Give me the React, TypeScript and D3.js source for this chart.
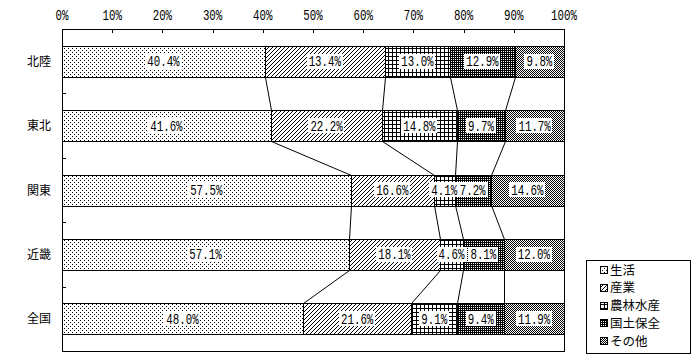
import React from "react";
import * as d3 from "d3";

const categories = ["北陸", "東北", "関東", "近畿", "全国"];
const seriesNames = ["生活", "産業", "農林水産", "国土保全", "その他"];
const seikatsu = [40.4, 41.6, 57.5, 57.1, 48.0];
const sangyou = [23.9, 22.2, 16.6, 18.1, 21.6];
const sangyouLabels = ["13.4%", "22.2%", "16.6%", "18.1%", "21.6%"];
const nourin = [13.0, 14.8, 4.1, 4.6, 9.1];
const kokudo = [12.9, 9.7, 7.2, 8.1, 9.4];
const sonota = [9.8, 11.7, 14.6, 12.0, 11.9];
const xTicks = [0, 10, 20, 30, 40, 50, 60, 70, 80, 90, 100];

const seriesValues = [seikatsu, sangyou, nourin, kokudo, sonota];
const patternIds = ["pDots", "pDiag", "pGrid", "pDark", "pCheck"];

const W = 700, H = 360;
const left = 62, right = 564, top = 29, bottom = 351;
const monoFont = "'Liberation Mono', 'DejaVu Sans Mono', monospace";
const cjkFont = "'Noto Sans CJK JP', 'Noto Sans', sans-serif";
const monoSize = 14;
const sx = 0.77;
const charW = monoSize * 0.6 * sx;

export default function App() {
  const rows = categories.map((c, i) => {
    const r: any = { cat: c };
    seriesNames.forEach((s, k) => (r[s] = seriesValues[k][i]));
    return r;
  });
  const stacked = d3.stack<any>().keys(seriesNames).offset(d3.stackOffsetExpand)(rows);
  const x = d3.scaleLinear().domain([0, 1]).range([left, right]);
  const xp = d3.scaleLinear().domain([0, 100]).range([left, right]);
  const y = d3.scaleBand().domain(categories).range([top, bottom]).paddingInner(0.52).paddingOuter(0.26);
  const band = (bottom - top) / categories.length;

  const labelText = (k: number, i: number) =>
    k === 1 ? sangyouLabels[i] : seriesValues[k][i].toFixed(1) + "%";

  const px = (pts: [number, number][]) =>
    pts.map(([a, b], j) => <rect key={j} x={a} y={b} width={1} height={1} fill="#000" />);

  return (
    <svg width={W} height={H} style={{ position: "absolute", left: 0, top: 0, background: "#fff" }} shapeRendering="crispEdges">
      <defs>
        <pattern id="pDots" width={4} height={4} patternUnits="userSpaceOnUse">
          <rect width={4} height={4} fill="#fff" />
          {px([[0, 0], [2, 2]])}
        </pattern>
        <pattern id="pDiag" width={4} height={4} patternUnits="userSpaceOnUse">
          <rect width={4} height={4} fill="#fff" />
          {px([[3, 0], [2, 1], [1, 2], [0, 3]])}
        </pattern>
        <pattern id="pGrid" width={4} height={4} patternUnits="userSpaceOnUse">
          <rect width={4} height={4} fill="#fff" />
          <rect x={0} y={0} width={4} height={1} fill="#000" />
          <rect x={0} y={0} width={1} height={4} fill="#000" />
        </pattern>
        <pattern id="pDark" width={2} height={2} patternUnits="userSpaceOnUse">
          <rect width={2} height={2} fill="#000" />
          <rect x={1} y={1} width={1} height={1} fill="#fff" />
        </pattern>
        <pattern id="pCheck" width={2} height={2} patternUnits="userSpaceOnUse">
          <rect width={2} height={2} fill="#fff" />
          {px([[0, 0], [1, 1]])}
        </pattern>
      </defs>

      {/* frame */}
      <rect x={left + 0.5} y={top + 0.5} width={right - left} height={bottom - top} fill="#fff" stroke="#000" />

      {/* top axis ticks and labels */}
      {xTicks.map((t) => (
        <g key={t}>
          <line x1={Math.round(xp(t)) + 0.5} x2={Math.round(xp(t)) + 0.5} y1={top} y2={top + 4} stroke="#000" />
          <text
            transform={`translate(${xp(t)},20) scale(${sx},1)`}
            textAnchor="middle"
            fontFamily={monoFont}
            fontSize={monoSize}
          >
            {t}%
          </text>
        </g>
      ))}

      {/* left axis ticks */}
      {categories.slice(1).map((c, i) => {
        const yy = Math.round(top + band * (i + 1)) + 0.5;
        return <line key={c} x1={left} x2={left + 4} y1={yy} y2={yy} stroke="#000" />;
      })}

      {/* category labels */}
      {categories.map((c) => (
        <text key={c} x={51} y={(y(c) as number) + y.bandwidth() / 2 + 4.5} textAnchor="end" fontFamily={cjkFont} fontSize={12}>
          {c}
        </text>
      ))}

      {/* series connector lines */}
      {stacked.slice(0, 4).map((s, k) =>
        categories.slice(0, -1).map((c, i) => {
          const x1 = Math.round(x(s[i][1])) + 0.5;
          const x2 = Math.round(x(s[i + 1][1])) + 0.5;
          const y1 = Math.round((y(c) as number) + y.bandwidth()) + 0.5;
          const y2 = Math.round(y(categories[i + 1]) as number) + 0.5;
          return <line key={`${k}-${i}`} x1={x1} x2={x2} y1={y1} y2={y2} stroke="#000" shapeRendering="auto" strokeWidth={1} />;
        })
      )}

      {/* bars */}
      {stacked.map((s, k) =>
        s.map((d, i) => {
          const x0 = Math.round(x(d[0]));
          const x1 = Math.round(x(d[1]));
          const y0 = Math.round(y(categories[i]) as number);
          const h = Math.round(y.bandwidth());
          return (
            <rect key={`${k}-${i}`} x={x0 + 0.5} y={y0 + 0.5} width={x1 - x0} height={h} fill={`url(#${patternIds[k]})`} stroke="#000" />
          );
        })
      )}

      {/* data labels */}
      {stacked.map((s, k) =>
        s.map((d, i) => {
          const t = labelText(k, i);
          const cx = (x(d[0]) + x(d[1])) / 2;
          const cy = (y(categories[i]) as number) + y.bandwidth() / 2;
          const tw = charW * t.length;
          return (
            <g key={`l${k}-${i}`}>
              <rect x={Math.round(cx - tw / 2 - 2)} y={Math.round(cy - 7.5)} width={Math.round(tw + 4)} height={15} fill="#fff" />
              <text
                transform={`translate(${cx},${cy + 5}) scale(${sx},1)`}
                textAnchor="middle"
                fontFamily={monoFont}
                fontSize={monoSize}
              >
                {t}
              </text>
            </g>
          );
        })
      )}

      {/* legend */}
      <rect x={586.5} y={260.5} width={104} height={93} fill="#fff" stroke="#000" />
      {seriesNames.map((s, k) => {
        const cy = 270 + k * 17.8;
        return (
          <g key={s}>
            <rect x={600.5} y={Math.round(cy - 4) + 0.5} width={7} height={7} fill={`url(#${patternIds[k]})`} stroke="#000" />
            <text x={610} y={cy + 4.5} fontFamily={cjkFont} fontSize={12.5}>
              {s}
            </text>
          </g>
        );
      })}
    </svg>
  );
}
